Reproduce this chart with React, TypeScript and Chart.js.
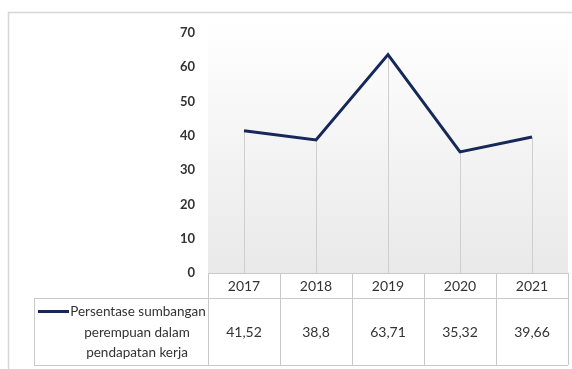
import React, { useEffect, useRef } from "react";
import { Chart, registerables } from "chart.js";

Chart.register(...registerables);

const years = ["2017", "2018", "2019", "2020", "2021"];
const values = [41.52, 38.8, 63.71, 35.32, 39.66];
const valueLabels = ["41,52", "38,8", "63,71", "35,32", "39,66"];
const seriesLabel = ["Persentase sumbangan", "perempuan dalam", "pendapatan kerja"];
const yTicks = [0, 10, 20, 30, 40, 50, 60, 70];

const FONT = "Lato, 'Open Sans', sans-serif";
const LINE_COLOR = "#16285a";
const GRID_COLOR = "#c9c9c9";
const TEXT_COLOR = "#333333";

const tablePlugin = {
  id: "tablePlugin",
  beforeDraw(chart: any) {
    const { ctx, chartArea } = chart;
    ctx.save();
    ctx.fillStyle = "#ffffff";
    ctx.fillRect(0, 0, chart.width, chart.height);
    // outer frame
    ctx.strokeStyle = "#d6d6d6";
    ctx.lineWidth = 1.5;
    ctx.strokeRect(8.5, 12.5, chart.width + 20, chart.height + 20);
    // plot gradient
    const top = chartArea.top - 12;
    const g = ctx.createLinearGradient(0, top, 0, chartArea.bottom);
    g.addColorStop(0, "#ffffff");
    g.addColorStop(1, "#e9e9e9");
    ctx.fillStyle = g;
    ctx.fillRect(chartArea.left, top, chartArea.right - chartArea.left, chartArea.bottom - top);
    ctx.restore();
  },
  beforeDatasetsDraw(chart: any) {
    const { ctx, chartArea } = chart;
    const meta = chart.getDatasetMeta(0);
    ctx.save();
    ctx.strokeStyle = "#cfcfcf";
    ctx.lineWidth = 1;
    meta.data.forEach((pt: any) => {
      const x = Math.round(pt.x) + 0.5;
      ctx.beginPath();
      ctx.moveTo(x, pt.y);
      ctx.lineTo(x, chartArea.bottom);
      ctx.stroke();
    });
    ctx.restore();
  },
  afterDraw(chart: any) {
    const { ctx, chartArea } = chart;
    const xs = chart.scales.x;
    const n = years.length;
    const step = (chartArea.right - chartArea.left) / n;
    const headerTop = chartArea.bottom;
    const rowTop = headerTop + 25;
    const rowBottom = 365;
    const legendLeft = 34;
    ctx.save();
    ctx.strokeStyle = GRID_COLOR;
    ctx.lineWidth = 1;
    const h = (x1: number, x2: number, y: number) => {
      ctx.beginPath();
      ctx.moveTo(x1, Math.round(y) + 0.5);
      ctx.lineTo(x2, Math.round(y) + 0.5);
      ctx.stroke();
    };
    const v = (x: number, y1: number, y2: number) => {
      ctx.beginPath();
      ctx.moveTo(Math.round(x) + 0.5, y1);
      ctx.lineTo(Math.round(x) + 0.5, y2);
      ctx.stroke();
    };
    h(chartArea.left, chartArea.right, headerTop);
    h(legendLeft, chartArea.right, rowTop);
    h(legendLeft, chartArea.right, rowBottom);
    v(legendLeft, rowTop, rowBottom);
    for (let i = 0; i <= n; i++) {
      v(chartArea.left + i * step, headerTop, rowBottom);
    }
    // values
    ctx.fillStyle = TEXT_COLOR;
    ctx.font = `14px ${FONT}`;
    ctx.textAlign = "center";
    ctx.textBaseline = "middle";
    const midY = (rowTop + rowBottom) / 2 + 1;
    valueLabels.forEach((lbl, i) => {
      ctx.fillText(lbl, xs.getPixelForValue(i), midY);
    });
    // legend key
    ctx.strokeStyle = LINE_COLOR;
    ctx.lineWidth = 3;
    ctx.beginPath();
    ctx.moveTo(38, 311.5);
    ctx.lineTo(69, 311.5);
    ctx.stroke();
    // legend text
    ctx.fillStyle = TEXT_COLOR;
    ctx.font = `13.5px ${FONT}`;
    seriesLabel.forEach((t, i) => {
      const cx = i === 0 ? 138 : 137;
      ctx.fillText(t, cx, 312 + i * 20.5);
    });
    ctx.restore();
  },
};

export default function App() {
  const ref = useRef<HTMLCanvasElement | null>(null);
  useEffect(() => {
    if (!ref.current) return;
    const chart = new Chart(ref.current, {
      type: "line",
      data: {
        labels: years,
        datasets: [
          {
            label: seriesLabel.join(" "),
            data: values,
            borderColor: LINE_COLOR,
            backgroundColor: LINE_COLOR,
            borderWidth: 3,
            pointRadius: 0,
            tension: 0,
            borderJoinStyle: "miter",
          },
        ],
      },
      options: {
        responsive: false,
        animation: false,
        devicePixelRatio: 1,
        layout: { padding: { top: 33, right: 4, bottom: 71, left: 0 } },
        plugins: { legend: { display: false }, tooltip: { enabled: false } },
        scales: {
          x: {
            offset: true,
            grid: { display: false, drawTicks: false },
            border: { display: false },
            ticks: { color: TEXT_COLOR, font: { family: FONT, size: 14 }, padding: 5 },
            afterFit: (s: any) => {
              s.height = 25;
            },
          },
          y: {
            min: 0,
            max: 70,
            afterBuildTicks: (s: any) => {
              s.ticks = yTicks.map((v) => ({ value: v }));
            },
            grid: { display: false, drawTicks: false },
            border: { display: false },
            ticks: {
              color: TEXT_COLOR,
              font: { family: FONT, size: 13, weight: "bold" },
              padding: 13,
            },
            afterFit: (s: any) => {
              s.width = 208;
            },
          },
        },
      },
      plugins: [tablePlugin],
    } as any);
    return () => chart.destroy();
  }, []);
  return (
    <div style={{ position: "fixed", left: 0, top: 0, width: 572, height: 369, background: "#fff" }}>
      <canvas ref={ref} width={572} height={369} style={{ display: "block" }} />
    </div>
  );
}
